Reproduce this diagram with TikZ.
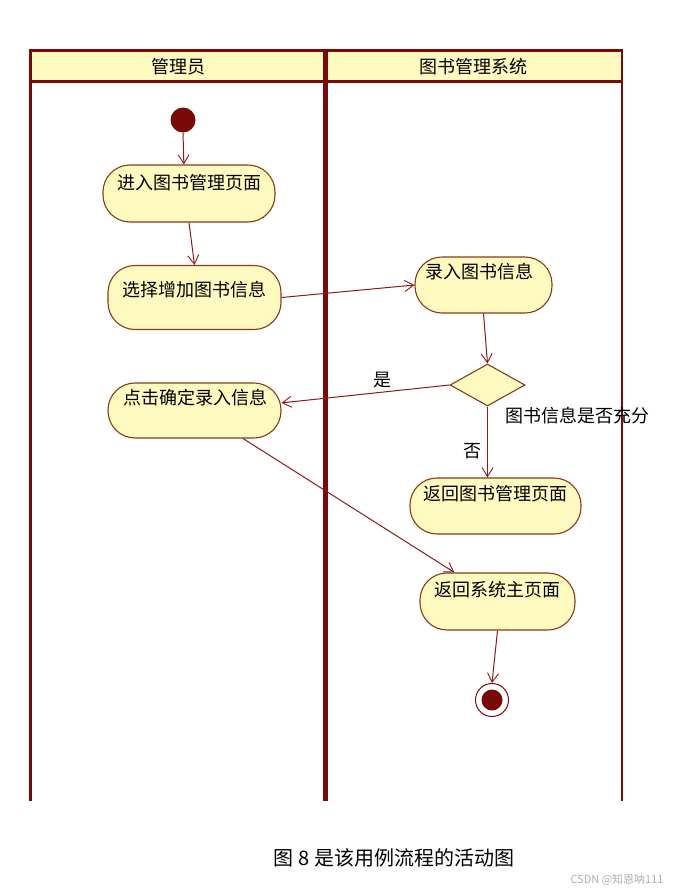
\documentclass[tikz,border=0pt]{standalone}
\usepackage{fontspec}
\newfontfamily\cjk{Noto Sans CJK SC}
\usetikzlibrary{arrows.meta,shapes.geometric}
\definecolor{lanered}{HTML}{7A0A0A}
\definecolor{actfill}{HTML}{FFFAC0}
\definecolor{actline}{HTML}{8A3A1A}
\definecolor{arrred}{HTML}{8A1A1A}
\definecolor{wmgray}{HTML}{B0B0B0}
\tikzset{
  lane/.style={draw=lanered},
  act/.style={draw=actline, fill=actfill, line width=1.1pt, rounded corners=27pt, inner sep=0pt},
  acttext/.style={inner sep=0pt, font=\cjk\fontsize{18}{21}\selectfont},
  arr/.style={draw=arrred, line width=1pt, -{Straight Barb[length=9pt,width=11pt,line width=0.9pt]}},
  lbl/.style={inner sep=0pt, font=\cjk\fontsize{18}{21}\selectfont},
  hdr/.style={inner sep=0pt, font=\cjk\fontsize{18}{21}\selectfont},
}
\begin{document}
\begin{tikzpicture}[x=1pt,y=-1pt]
\useasboundingbox (0,0) rectangle (681,894);
\fill[white] (0,0) rectangle (681,894);
% swimlanes
\fill[actfill] (30,50) rectangle (622,81);
\draw[lane, line width=3pt] (30,50) -- (622,50);
\draw[lane, line width=3pt] (30,81) -- (622,81);
\draw[lane, line width=3pt] (30,48.5) -- (30,801);
\draw[lane, line width=5pt] (325,48.5) -- (325,801);
\draw[lane, line width=2.5pt] (622,48.5) -- (622,801);
\node[hdr] (h1) at (178,67) {管理员};
\node[hdr] (h2) at (473,67) {图书管理系统};
% start
\node[circle, fill=lanered, minimum size=25pt, inner sep=0pt] (s) at (183,120) {};
% activities
\node[act, minimum width=172pt, minimum height=57pt] (n1) at (189,193.5) {};
\node[acttext] (t1) at (189,183) {进入图书管理页面};
\node[act, minimum width=173pt, minimum height=64pt] (n2) at (194.5,297.5) {};
\node[acttext] (t2) at (194.5,290) {选择增加图书信息};
\node[act, minimum width=137pt, minimum height=56pt] (n3) at (483.5,285) {};
\node[acttext] (t3) at (479,272) {录入图书信息};
\node[act, minimum width=173pt, minimum height=55pt] (n4) at (194.5,410.5) {};
\node[acttext] (t4) at (195,398) {点击确定录入信息};
\node[act, minimum width=171pt, minimum height=56pt] (n5) at (495.5,506) {};
\node[acttext] (t5) at (495,494) {返回图书管理页面};
\node[act, minimum width=155pt, minimum height=57pt] (n6) at (497.5,601.5) {};
\node[acttext] (t6) at (497,590) {返回系统主页面};
% decision
\node[diamond, draw=actline, fill=actfill, line width=1.1pt, minimum width=75pt, minimum height=42pt, inner sep=0pt] (d) at (487.5,385) {};
% end
\node[circle, draw=lanered, fill=white, line width=1pt, minimum size=33pt, inner sep=0pt] (e) at (492,700) {};
\node[circle, fill=lanered, minimum size=21pt, inner sep=0pt] (e2) at (492,700) {};
% connectors
\draw[arr] (s.south) -- (n1.100);
\draw[arr] (n1.south) -- (n2.north);
\draw[arr] (n2.east) -- (n3.west);
\draw[arr] (n3.south) -- (d.north);
\draw[arr] (d.west) -- (n4.5);
\draw[arr] (d.south) -- (d.south |- n5.north);
\draw[arr] (n4.-30) -- (n6.146);
\draw[arr] (n6.south) -- (e.north);
% labels
\node[lbl] (yes) at (382,380) {是};
\node[lbl] (no) at (472,451) {否};
\node[lbl] (cond) at (577,416) {图书信息是否充分};
% caption
\node[inner sep=0pt, font=\cjk\fontsize{20}{23}\selectfont] (cap) at (394,858) {图 8 是该用例流程的活动图};
\node[inner sep=0pt, text=wmgray, font=\cjk\fontsize{11}{13}\selectfont] (wm) at (617,880) {CSDN @知恩呐111};
\end{tikzpicture}
\end{document}
